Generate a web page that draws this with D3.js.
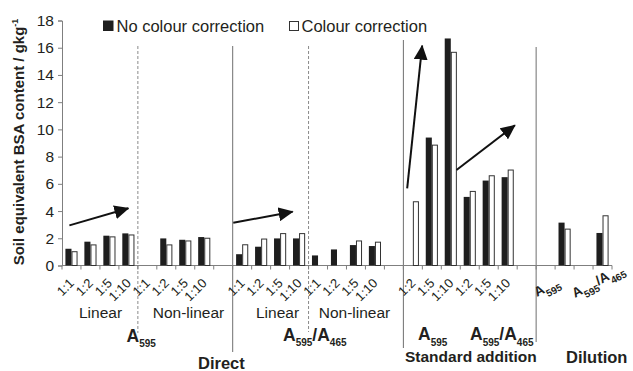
<!DOCTYPE html>
<html><head><meta charset="utf-8">
<script src="https://cdn.jsdelivr.net/npm/d3@7"></script>
<style>
html,body{margin:0;padding:0;background:#fff;}
svg{display:block;font-family:"Liberation Sans",Arial,sans-serif;}
</style></head>
<body><svg id="c" width="633" height="371"></svg>
<script>
// ---- data ----
const tickLabels = ["1:1","1:2","1:5","1:10","1:1","1:2","1:5","1:10","",
                    "1:1","1:2","1:5","1:10","1:1","1:2","1:5","1:10","",
                    "1:2","1:5","1:10","1:2","1:5","1:10","",
                    "","A595","","A595/A465"];
const noCorrection = [1.23,1.75,2.19,2.36, null,1.99,1.89,2.09, null,
                      0.83,1.38,1.99,1.99, 0.74,1.18,1.50,1.43, null,
                      null,9.40,16.68, 5.04,6.24,6.49, null,
                      null,3.15,null,2.39];
const colourCorrection = [1.05,1.55,2.14,2.28, null,1.55,1.84,2.04, null,
                          1.56,1.98,2.38,2.38, null,null,1.84,1.75, null,
                          4.72,8.88,15.70, 5.48,6.63,7.05, null,
                          null,2.71,null,3.69];
const yTicks = [0,2,4,6,8,10,12,14,16,18];
const seriesNames = ["No colour correction","Colour correction"];
const yTitle = "Soil equivalent BSA content / gkg";

const svg = d3.select("#c");
const ink = "#231f20", grey = "#7f7f7f";

const x = d3.scaleBand().domain(d3.range(tickLabels.length)).range([62,612]).padding(0);
const xi = d3.scaleLinear().domain([0,tickLabels.length]).range([62,612]);
const y = d3.scaleLinear().domain([0,18]).range([265.5,20.5]);
const bw = x.bandwidth()*0.32;

// dividers
const dividers = [
  {i:4, dash:true, top:46, bot:333},
  {i:9, dash:false, top:46, bot:352},
  {i:13, dash:true, top:46, bot:332},
  {i:18, dash:false, top:40, bot:348},
  {i:25, dash:false, top:47, bot:342}
];
svg.append("g").selectAll("line").data(dividers).join("line")
  .attr("x1",d=>xi(d.i)).attr("x2",d=>xi(d.i))
  .attr("y1",d=>d.top).attr("y2",d=>d.bot)
  .attr("stroke",d=>d.dash?"#8a8a8a":"#6f6f6f").attr("stroke-width",1)
  .attr("stroke-dasharray",d=>d.dash?"3,2":null);

// y axis
const ya = svg.append("g").attr("transform","translate(62,0)")
  .call(d3.axisLeft(y).tickValues(yTicks).tickSize(4).tickPadding(4));
ya.select(".domain").attr("stroke",grey);
ya.selectAll(".tick line").attr("stroke",grey);
ya.selectAll(".tick text").attr("font-size",15.5).attr("fill",ink)
  .attr("font-family","Liberation Sans, Arial, sans-serif");

// x axis line & ticks
svg.append("line").attr("x1",xi(0)).attr("x2",xi(tickLabels.length))
  .attr("y1",y(0)).attr("y2",y(0)).attr("stroke",grey);
svg.append("g").selectAll("line").data(d3.range(tickLabels.length+1)).join("line")
  .attr("x1",d=>xi(d)).attr("x2",d=>xi(d)).attr("y1",y(0)).attr("y2",y(0)+4)
  .attr("stroke",grey);

// bars
const idx = d3.range(tickLabels.length);
svg.append("g").selectAll("rect").data(idx.filter(i=>noCorrection[i]!=null)).join("rect")
  .attr("x",i=>x(i)+x.bandwidth()/2-bw).attr("width",bw)
  .attr("y",i=>y(noCorrection[i])).attr("height",i=>y(0)-y(noCorrection[i]))
  .attr("fill","#1e1e1e");
svg.append("g").selectAll("rect").data(idx.filter(i=>colourCorrection[i]!=null)).join("rect")
  .attr("x",i=>x(i)+x.bandwidth()/2+0.5).attr("width",bw-1)
  .attr("y",i=>y(colourCorrection[i])+0.5).attr("height",i=>y(0)-y(colourCorrection[i])-0.5)
  .attr("fill","#fff").attr("stroke","#333").attr("stroke-width",1);

// ratio tick labels
svg.append("g").selectAll("text").data(idx.filter(i=>tickLabels[i].startsWith("1:"))).join("text")
  .attr("transform",i=>`translate(${x(i)+x.bandwidth()/2+3.5},284) rotate(-45)`)
  .attr("text-anchor","end").attr("font-size",13).attr("fill",ink)
  .text(i=>tickLabels[i]);

// subscript label helper
function aLabel(g, str, big, small, weight){
  const t = g.append("text").attr("font-weight",weight).attr("fill",ink);
  const parts = str.split("/");
  parts.forEach((p,k)=>{
    if(k>0) t.append("tspan").attr("font-size",big).attr("dy",-small*0.55).text("/");
    t.append("tspan").attr("font-size",big).attr("dy",k>0?0:null).text(p[0]);
    t.append("tspan").attr("font-size",small).attr("dy",small*0.55).text(p.slice(1));
  });
  return t;
}

// dilution tick labels
[26,28].forEach(i=>{
  const g = svg.append("g").attr("transform",`translate(${x(i)-18},${i===26?297:298}) rotate(-28)`);
  aLabel(g, tickLabels[i], 13.5, 10, "bold");
});

// group labels
const sub = [
  {t:"Linear", x:100.5}, {t:"Non-linear", x:188.5},
  {t:"Linear", x:277.5}, {t:"Non-linear", x:354.5}
];
svg.append("g").selectAll("text").data(sub).join("text")
  .attr("x",d=>d.x).attr("y",317.5).attr("text-anchor","middle")
  .attr("font-size",15.5).attr("fill",ink).text(d=>d.t);

const aLabs = [
  {t:"A595", x:126.5, y:341.5}, {t:"A595/A465", x:283, y:340.5},
  {t:"A595", x:418, y:340}, {t:"A595/A465", x:470, y:340}
];
aLabs.forEach(d=>{
  const g = svg.append("g").attr("transform",`translate(${d.x},${d.y})`);
  aLabel(g, d.t, 17.5, 10, "bold");
});

const main = [
  {t:"Direct", x:198, y:368.5, s:16.5},
  {t:"Standard addition", x:405, y:362, s:15.5},
  {t:"Dilution", x:566, y:363, s:16.5}
];
svg.append("g").selectAll("text").data(main).join("text")
  .attr("x",d=>d.x).attr("y",d=>d.y).attr("font-size",d=>d.s)
  .attr("font-weight","bold").attr("fill",ink).text(d=>d.t);

// y title
const yt = svg.append("text").attr("transform","translate(24,142) rotate(-90)")
  .attr("text-anchor","middle").attr("font-size",15).attr("font-weight","bold").attr("fill",ink);
yt.append("tspan").text(yTitle);
yt.append("tspan").attr("font-size",9).attr("dy",-6).text("-1");

// legend
const leg = svg.append("g");
leg.append("rect").attr("x",103).attr("y",20.5).attr("width",10.5).attr("height",10.5).attr("fill","#1e1e1e");
leg.append("text").attr("x",116.5).attr("y",31.5).attr("font-size",16.5).attr("fill",ink).text(seriesNames[0]);
leg.append("rect").attr("x",289.5).attr("y",21.5).attr("width",9).attr("height",9).attr("fill","#fff").attr("stroke","#333");
leg.append("text").attr("x",301.5).attr("y",31.5).attr("font-size",16.5).attr("fill",ink).text(seriesNames[1]);

// arrows (data space)
svg.append("defs").append("marker").attr("id","ah").attr("viewBox","0 -7 15 14")
  .attr("refX",14).attr("refY",0).attr("markerWidth",15).attr("markerHeight",14)
  .attr("markerUnits","userSpaceOnUse").attr("orient","auto")
  .append("path").attr("d","M0,-7L15,0L0,7Z").attr("fill","#111");
const arrows = [
  {x0:0.39,v0:2.95,x1:3.5,v1:4.2},
  {x0:9.03,v0:3.14,x1:12.16,v1:3.95},
  {x0:18.2,v0:5.67,x1:18.99,v1:16.15},
  {x0:20.8,v0:7.02,x1:23.88,v1:10.3}
];
svg.append("g").selectAll("line").data(arrows).join("line")
  .attr("x1",d=>xi(d.x0)).attr("y1",d=>y(d.v0)).attr("x2",d=>xi(d.x1)).attr("y2",d=>y(d.v1))
  .attr("stroke","#111").attr("stroke-width",2).attr("marker-end","url(#ah)");
</script></body></html>
